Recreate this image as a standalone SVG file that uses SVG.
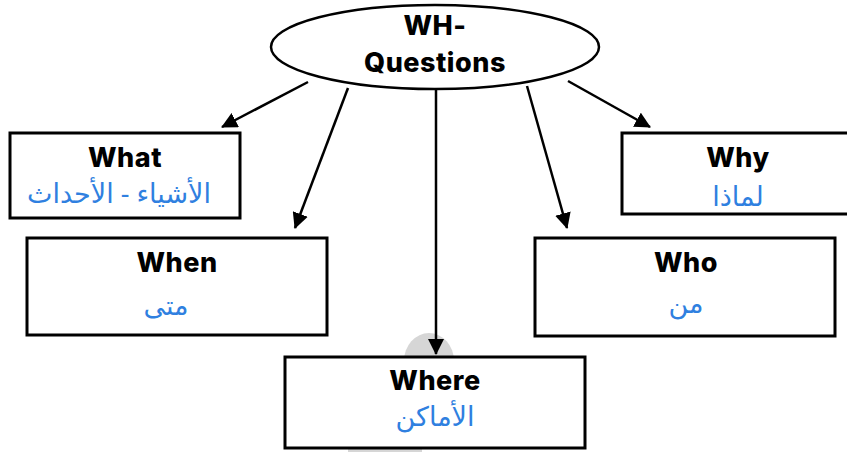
<svg xmlns="http://www.w3.org/2000/svg" width="847" height="452" viewBox="0 0 847 452">
<defs>
<style>
.box{fill:#fff;stroke:#000;stroke-width:3}
.en{font-family:Inter,"Open Sans","Liberation Sans",sans-serif;font-weight:800;font-size:27px;letter-spacing:0.5px;fill:#000;text-anchor:middle}
.ar{font-family:"Noto Sans","DejaVu Sans",sans-serif;font-size:27px;fill:#2f80e0;text-anchor:middle}
.con{stroke:#000;stroke-width:2.5;fill:none;marker-end:url(#ah)}
</style>
<marker id="ah" markerUnits="userSpaceOnUse" markerWidth="16" markerHeight="16" viewBox="0 0 16 16" refX="15" refY="8" orient="auto">
<path d="M0,0 L16,8 L0,16 Z" fill="#000"/>
</marker>
</defs>
<rect width="847" height="452" fill="#fff"/>
<ellipse cx="429" cy="361" rx="25" ry="28" fill="#d6d6d6"/>
<rect x="348" y="449" width="74" height="3" fill="#d6d6d6"/>
<g id="connectors">
<line class="con" x1="308" y1="82" x2="222" y2="127"/>
<line class="con" x1="348" y1="88" x2="295" y2="228"/>
<line class="con" x1="436" y1="89" x2="436" y2="354"/>
<line class="con" x1="527" y1="86" x2="567" y2="228"/>
<line class="con" x1="568" y1="81" x2="650" y2="127"/>
</g>
<g id="wh">
<ellipse cx="435" cy="47" rx="164" ry="42" fill="#fff" stroke="#000" stroke-width="2.5"/>
<text class="en" x="435" y="35">WH-</text>
<text class="en" x="435" y="72">Questions</text>
</g>
<g id="what">
<rect class="box" x="10" y="133" width="230" height="85"/>
<text class="en" x="125" y="167">What</text>
<text class="ar" x="119" y="203">الأشياء - الأحداث</text>
</g>
<g id="when">
<rect class="box" x="27" y="238" width="300" height="97"/>
<text class="en" x="177" y="272">When</text>
<text class="ar" x="166" y="315">متى</text>
</g>
<g id="why">
<rect class="box" x="622" y="133" width="230" height="81"/>
<text class="en" x="738" y="167">Why</text>
<text class="ar" x="738" y="206">لماذا</text>
</g>
<g id="who">
<rect class="box" x="535" y="238" width="300" height="98"/>
<text class="en" x="686" y="272">Who</text>
<text class="ar" x="686" y="313">من</text>
</g>
<g id="where">
<rect class="box" x="285" y="357" width="300" height="91"/>
<text class="en" x="435" y="390">Where</text>
<text class="ar" x="435" y="426">الأماكن</text>
</g>
</svg>
